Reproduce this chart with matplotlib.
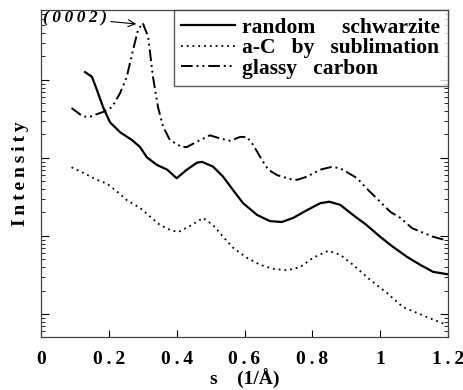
import matplotlib
matplotlib.use("Agg")
import matplotlib.pyplot as plt
from matplotlib.ticker import LogLocator, NullFormatter, FixedLocator

# ---- data ----
s_glassy = [0.09, 0.124, 0.145, 0.183, 0.209, 0.233, 0.253, 0.271, 0.286, 0.30,
            0.316, 0.33, 0.345, 0.36, 0.38, 0.415, 0.43, 0.46, 0.498, 0.528,
            0.557, 0.587, 0.607, 0.625, 0.652, 0.67, 0.696, 0.734, 0.755, 0.784,
            0.823, 0.861, 0.89, 0.932, 0.96, 0.995, 1.03, 1.06, 1.094, 1.127,
            1.156, 1.19]
i_glassy = [0.437, 0.339, 0.339, 0.389, 0.447, 0.676, 1.10, 2.40, 4.37, 5.37,
            3.55, 1.10, 0.447, 0.251, 0.170, 0.138, 0.138, 0.162, 0.195, 0.178,
            0.166, 0.186, 0.186, 0.148, 0.0933, 0.0708, 0.0603, 0.0537, 0.0525, 0.0575,
            0.0708, 0.0776, 0.0708, 0.0550, 0.0407, 0.0288, 0.0204, 0.0170, 0.0126, 0.0110,
            0.00977, 0.00891]

s_schw = [0.13, 0.15, 0.165, 0.183, 0.203, 0.233, 0.268, 0.292, 0.312, 0.342,
          0.372, 0.40, 0.43, 0.46, 0.475, 0.507, 0.537, 0.566, 0.596, 0.637,
          0.675, 0.71, 0.743, 0.784, 0.823, 0.85, 0.882, 0.92, 0.96, 1.0,
          1.038, 1.08, 1.118, 1.156, 1.197]
i_schw = [1.26, 1.10, 0.741, 0.447, 0.288, 0.214, 0.170, 0.138, 0.102, 0.0813,
          0.0708, 0.0550, 0.0708, 0.0871, 0.0891, 0.0776, 0.0575, 0.0389, 0.0263, 0.0186,
          0.0155, 0.0151, 0.0170, 0.0214, 0.0263, 0.0275, 0.0251, 0.0186, 0.0138, 0.00977,
          0.00724, 0.00537, 0.00427, 0.00347, 0.00324]

s_subl = [0.09, 0.124, 0.165, 0.195, 0.224, 0.253, 0.292, 0.321, 0.351, 0.38,
          0.404, 0.44, 0.478, 0.507, 0.537, 0.566, 0.607, 0.646, 0.684, 0.725,
          0.764, 0.802, 0.847, 0.882, 0.92, 0.97, 1.02, 1.067, 1.138, 1.197]
i_subl = [0.0759, 0.0646, 0.0525, 0.0468, 0.0372, 0.0288, 0.0229, 0.0178, 0.0138, 0.0120,
          0.0112, 0.0135, 0.0170, 0.0138, 0.00977, 0.00708, 0.00525, 0.00427, 0.00380, 0.00363,
          0.00398, 0.00525, 0.00646, 0.00575, 0.00427, 0.00275, 0.00186, 0.00123, 0.000912, 0.000724]

labels = ["random schwarzite", "a-C by sublimation", "glassy carbon"]
x_ticks = [0, 0.2, 0.4, 0.6, 0.8, 1.0, 1.2]
x_ticklabels = ["0", "0.2", "0.4", "0.6", "0.8", "1", "1.2"]

THIN = "\u2009"


def spaced(text, sep=THIN, gap="  "):
    words = text.split(" ")
    return gap.join(sep.join(w) for w in words)


plt.rcParams['font.family'] = ['Liberation Serif', 'DejaVu Serif']
plt.rcParams['font.weight'] = 'bold'
plt.rcParams['axes.labelweight'] = 'bold'

fig = plt.figure(figsize=(4.63, 3.90), dpi=100)
ax = fig.add_axes([0.0886, 0.1359, 0.879, 0.8385])

ax.plot(s_schw, i_schw, color='black', lw=1.6, linestyle='-',
        label=labels[0].replace(" ", "     "))
ax.plot(s_subl, i_subl, color='black', lw=1.3, linestyle=(0, (1, 2.2)),
        label=labels[1].replace(" ", "   "))
ax.plot(s_glassy, i_glassy, color='black', lw=1.4, linestyle=(0, (6, 2, 1, 2, 1, 2)),
        label=labels[2].replace(" ", "   "))

ax.set_yscale('log')
ax.set_xlim(0, 1.2)
ax.set_ylim(10 ** -3.295, 10 ** 0.897)

ax.xaxis.set_major_locator(FixedLocator(x_ticks))
ax.set_xticklabels([THIN.join(t) if len(t) > 1 else t for t in x_ticklabels])
ax.tick_params(axis='x', direction='in', length=5, width=0.8, pad=10, labelsize=14)

ax.yaxis.set_major_locator(LogLocator(base=10, numticks=10))
ax.yaxis.set_minor_locator(LogLocator(base=10, subs=range(2, 10), numticks=20))
ax.yaxis.set_major_formatter(NullFormatter())
ax.yaxis.set_minor_formatter(NullFormatter())
ax.tick_params(axis='y', which='major', direction='in', length=6, width=0.8,
               left=True, right=True)
ax.tick_params(axis='y', which='minor', direction='in', length=3, width=0.6,
               left=True, right=True)

for sp in ax.spines.values():
    sp.set_color('#444444')
    sp.set_linewidth(0.9)

ax.set_ylabel(spaced("Intensity"), fontsize=14, fontweight='bold', labelpad=5)
ax.set_xlabel("s" + "    " + "(1/Å)", fontsize=14, fontweight='bold', labelpad=1)

leg = ax.legend(loc='upper right', fontsize=15.5, frameon=True, fancybox=False,
                borderaxespad=0, handlelength=2.5, handletextpad=0.35,
                labelspacing=0.02, borderpad=0.35)
leg.get_frame().set_edgecolor('#333333')
leg.get_frame().set_linewidth(1.0)
for t in leg.get_texts():
    t.set_fontweight('bold')

ax.annotate(spaced("(0002)"), xy=(0.285, 5.2), xytext=(0.005, 6.2),
            textcoords='data', fontsize=12.5, fontstyle='italic', fontweight='bold',
            va='center', ha='left',
            arrowprops=dict(arrowstyle='->', color='black', lw=0.8,
                            shrinkA=1, shrinkB=1))

fig.savefig("out.png", dpi=100)
